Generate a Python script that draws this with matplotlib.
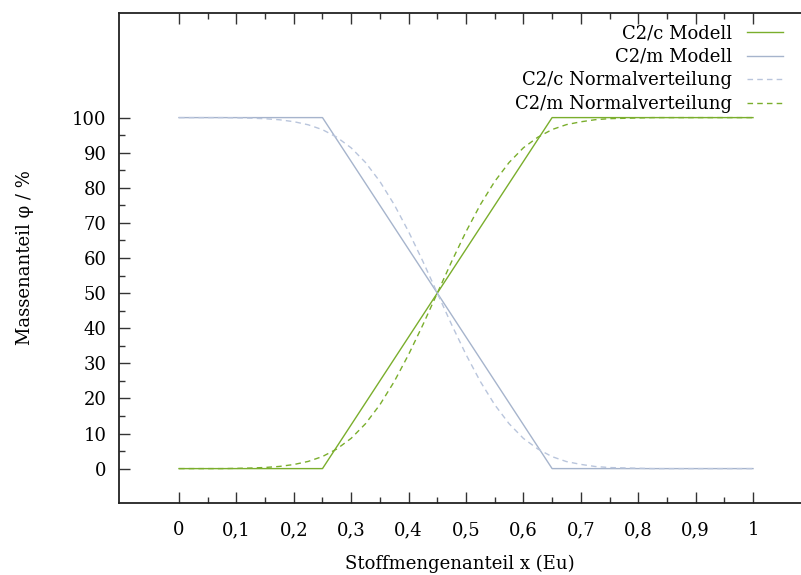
import numpy as np
import matplotlib
matplotlib.use("Agg")
import matplotlib.pyplot as plt
from matplotlib.ticker import FixedLocator

plt.rcParams['font.family'] = ['DejaVu Serif']

# composition grid (Eu fraction) and mass fractions in %
x_model = [0.0, 0.25, 0.65, 1.0]
c2c_model = [0, 0, 100, 100]
c2m_model = [100, 100, 0, 0]

x_norm = [0.0, 0.025, 0.05, 0.075, 0.1, 0.125, 0.15, 0.175, 0.2, 0.225,
          0.25, 0.275, 0.3, 0.325, 0.35, 0.375, 0.4, 0.425, 0.45, 0.475,
          0.5, 0.525, 0.55, 0.575, 0.6, 0.625, 0.65, 0.675, 0.7, 0.725,
          0.75, 0.775, 0.8, 0.825, 0.85, 0.875, 0.9, 0.925, 0.95, 0.975, 1.0]
rise_norm = [0.0, 0.0, 0.0, 0.0, 0.07, 0.16, 0.32, 0.62, 1.16, 2.04,
             3.44, 5.59, 8.63, 12.8, 18.2, 24.8, 32.5, 41.0, 50.0, 59.0,
             67.5, 75.2, 81.8, 87.2, 91.4, 94.4, 96.6, 98.0, 98.8, 99.4,
             99.7, 99.8, 99.9, 100, 100, 100, 100, 100, 100, 100, 100]
fall_norm = [100, 100, 100, 100, 99.93, 99.84, 99.68, 99.38, 98.84, 97.96,
             96.56, 94.41, 91.37, 87.2, 81.8, 75.2, 67.5, 59.0, 50.0, 41.0,
             32.5, 24.8, 18.2, 12.8, 8.6, 5.6, 3.4, 2.0, 1.2, 0.6,
             0.3, 0.2, 0.1, 0.0, 0.0, 0.0, 0.0, 0.0, 0.0, 0.0, 0.0]

x_ticks = [0.0, 0.1, 0.2, 0.3, 0.4, 0.5, 0.6, 0.7, 0.8, 0.9, 1.0]
x_ticklabels = ['0', '0,1', '0,2', '0,3', '0,4', '0,5', '0,6', '0,7', '0,8', '0,9', '1']
y_ticks = [0, 10, 20, 30, 40, 50, 60, 70, 80, 90, 100]

green = '#7aae2c'
blue = '#a6b4cc'
blue_light = '#b9c5dc'
FS = 13

fig = plt.figure(figsize=(8.01, 5.75), dpi=100)
ax = fig.add_axes([119 / 801, 1 - 503 / 575, 1 - 119 / 801, 490 / 575])

ax.plot(x_model, c2c_model, color=green, lw=1.0, label='C2/c Modell')
ax.plot(x_model, c2m_model, color=blue, lw=1.0, label='C2/m Modell')
ax.plot(x_norm, fall_norm, color=blue_light, lw=1.0, ls=(0, (4, 3)),
        label='C2/c Normalverteilung')
ax.plot(x_norm, rise_norm, color=green, lw=1.0, ls=(0, (4, 3)),
        label='C2/m Normalverteilung')

ax.set_xlim(-0.1045, 1.0836)
ax.set_ylim(-9.8, 129.8)

ax.xaxis.set_major_locator(FixedLocator(x_ticks))
ax.set_xticklabels(x_ticklabels)
ax.xaxis.set_minor_locator(FixedLocator(np.arange(0.05, 1.0, 0.1)))
ax.yaxis.set_major_locator(FixedLocator(y_ticks))
ax.yaxis.set_minor_locator(FixedLocator(np.arange(5, 100, 10)))

ax.tick_params(which='both', direction='in', top=True, right=False,
               labelsize=FS, width=1.0, color='#333333')
ax.tick_params(axis='x', which='both', pad=13)
ax.tick_params(axis='y', which='both', pad=9)
ax.tick_params(which='major', length=8)
ax.tick_params(which='minor', length=4)

ax.spines['right'].set_visible(False)
for s in ('left', 'top', 'bottom'):
    ax.spines[s].set_linewidth(1.3)
    ax.spines[s].set_color('#222222')

ax.set_xlabel('Stoffmengenanteil x (Eu)', fontsize=FS, labelpad=11.5)
ax.set_ylabel('Massenanteil φ / %', fontsize=FS, labelpad=27)

ax.legend(loc='upper right', bbox_to_anchor=(0.993, 1.004), frameon=False,
          markerfirst=False, fontsize=FS, handlelength=1.95,
          handletextpad=0.85, labelspacing=0.3, borderaxespad=0.35)

fig.savefig('out.png', dpi=100)
